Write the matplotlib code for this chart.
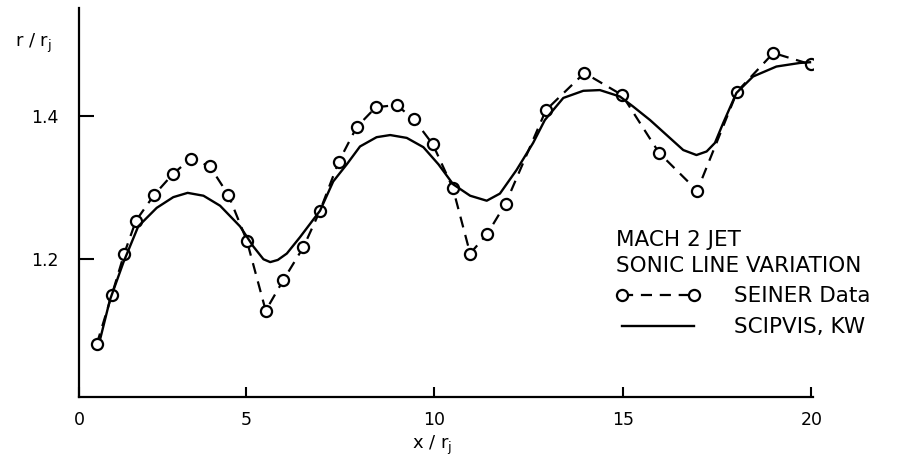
import matplotlib
matplotlib.use("Agg")
import matplotlib.pyplot as plt

plt.rcParams['font.family'] = ['DejaVu Sans']

# Seiner data (circles, dashed)
seiner_x = [1.05, 1.45, 1.78, 2.09, 2.57, 3.08, 3.55, 4.05, 4.54, 5.03, 5.53,
            6.00, 6.53, 6.97, 7.46, 7.94, 8.45, 9.00, 9.46, 9.96, 10.49, 10.95,
            11.41, 11.89, 12.96, 13.98, 14.98, 15.96, 16.97, 18.03, 18.99, 19.98]
seiner_y = [1.081, 1.150, 1.208, 1.254, 1.290, 1.320, 1.341, 1.330, 1.290, 1.226, 1.128,
            1.171, 1.217, 1.268, 1.336, 1.385, 1.413, 1.416, 1.396, 1.361, 1.300, 1.208,
            1.236, 1.278, 1.409, 1.461, 1.430, 1.349, 1.296, 1.435, 1.489, 1.473]

# SCIPVIS, KW computation (solid)
scip_x = [1.15, 1.40, 1.76, 2.15, 2.64, 3.08, 3.46, 3.88, 4.32, 4.85, 5.20, 5.47,
          5.65, 5.85, 6.09, 6.44, 6.97, 7.32, 7.68, 8.03, 8.47, 8.83, 9.27, 9.71,
          10.11, 10.50, 10.95, 11.39, 11.74, 12.18, 12.62, 12.93, 13.42, 13.95, 14.39,
          14.92, 15.27, 15.72, 16.16, 16.60, 16.95, 17.22, 17.44, 17.66, 18.01, 18.45,
          19.07, 19.69, 19.96]
scip_y = [1.090, 1.143, 1.196, 1.246, 1.272, 1.287, 1.293, 1.289, 1.275, 1.246, 1.218, 1.200,
          1.196, 1.199, 1.208, 1.231, 1.268, 1.309, 1.333, 1.358, 1.371, 1.374, 1.370, 1.357,
          1.333, 1.305, 1.289, 1.282, 1.292, 1.325, 1.363, 1.395, 1.426, 1.436, 1.437,
          1.428, 1.414, 1.395, 1.374, 1.353, 1.346, 1.351, 1.363, 1.391, 1.433, 1.456,
          1.470, 1.475, 1.476]

xtick_pos = [0.58, 5, 10, 15, 20]
xtick_labels = ['0', '5', '10', '15', '20']
ytick_pos = [1.2, 1.4]
ytick_labels = ['1.2', '1.4']

fig = plt.figure(figsize=(9.07, 4.63), dpi=100)
ax = fig.add_axes([79/907, 66/463, 734/907, 389/463])

ax.plot(seiner_x, seiner_y, color='black', lw=1.6, ls=(0, (5, 3.5)),
        marker='o', ms=8, mfc='white', mec='black', mew=1.6,
        label='SEINER Data')
ax.plot(scip_x, scip_y, color='black', lw=1.7, label='SCIPVIS, KW')

ax.set_xlim(0.58, 20.04)
ax.set_ylim(1.007, 1.552)

for s in ['top', 'right']:
    ax.spines[s].set_visible(False)
for s in ['left', 'bottom']:
    ax.spines[s].set_linewidth(1.6)

ax.set_xticks(xtick_pos, xtick_labels)
ax.set_yticks(ytick_pos, ytick_labels)
ax.tick_params(axis='x', direction='in', length=7, width=1.5, pad=10, labelsize=12.5)
ax.tick_params(axis='y', direction='in', length=11, width=1.5, pad=15, labelsize=12.5)

ax.set_xlabel(r'x / r$_{\mathrm{j}}$', fontsize=13)
ax.xaxis.set_label_coords((432 - 79) / 734, -0.095)
ax.text((33 - 79) / 734, (397 - 43) / 389, r'r / r$_{\mathrm{j}}$', fontsize=13,
        ha='center', va='center', transform=ax.transAxes)

leg = ax.legend(title='MACH 2 JET\nSONIC LINE VARIATION', frameon=False, numpoints=2,
                fontsize=15.5, title_fontsize=15.5, handlelength=3.9, handletextpad=1.6,
                labelspacing=0.5, alignment='left', loc='upper left',
                bbox_to_anchor=((616 - 79) / 734, (397 - 230) / 389),
                borderaxespad=0, borderpad=0)
leg.get_title().set_linespacing(1.35)

fig.savefig('out.png', dpi=100)
